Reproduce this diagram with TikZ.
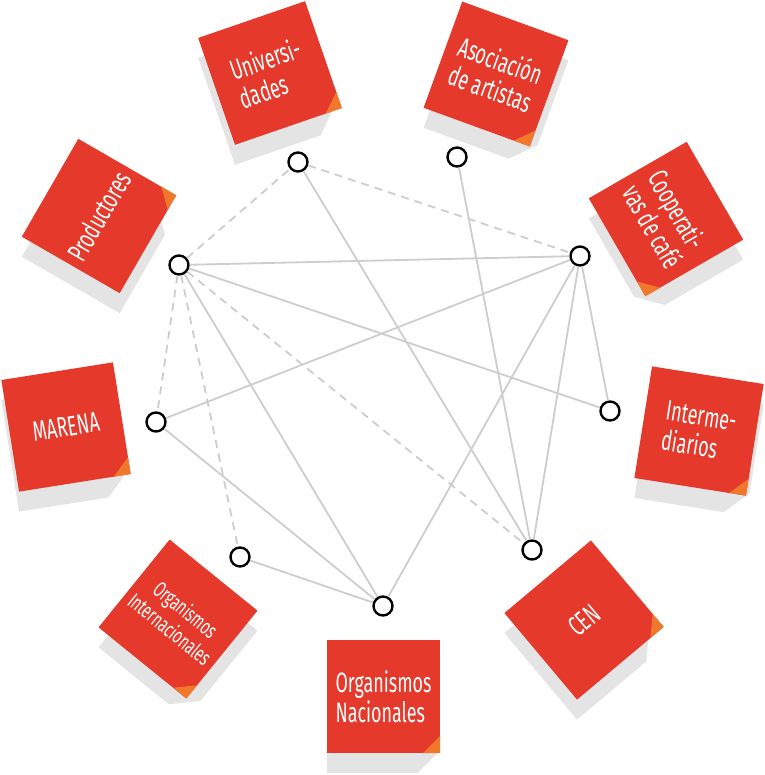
\documentclass[tikz,border=0pt]{standalone}
\usepackage{fontspec}
\newfontfamily\notefont{Fira Sans}[FakeStretch=0.64]
\definecolor{notered}{HTML}{E5392B}
\definecolor{notefold}{HTML}{F0782A}
\definecolor{noteshadow}{HTML}{E4E4E4}
\definecolor{linkgray}{HTML}{CDCDCD}
\tikzset{
  notetext/.style={text=white, align=left, inner sep=0pt, font=\notefont\fontsize{28}{30}\selectfont},
  smallnote/.style={font=\notefont\fontsize{22}{25}\selectfont, align=center},
  plainnote/.style={},
  hub/.style={circle, draw=black, line width=2.4pt, fill=white, minimum size=19pt, inner sep=0pt},
  link/.style={draw=linkgray, line width=1.8pt},
  dashlink/.style={link, dash pattern=on 8pt off 6pt}
}
% #1 name, #2 cx, #3 cy (image coords, y down), #4 angle, #5 extra style, #6 text
\newcommand\stickynote[6]{%
  \begin{scope}[shift={(#2,-#3-20)},rotate=#4]
    \fill[noteshadow] (-56.5,56.5) -- (56.5,56.5) -- (56.5,-34) -- (34,-56.5) -- (-56.5,-56.5) -- cycle;
  \end{scope}
  \begin{scope}[shift={(#2,-#3)},rotate=#4]
    \fill[notered] (-56.5,-56.5) rectangle (56.5,56.5);
    \fill[notefold] (56.5,-56.5) -- (39.5,-56.5) -- (56.5,-39.5) -- cycle;
  \end{scope}
  \node[notetext,#5,rotate=#4] (#1) at (#2,-#3) {#6};
}
\begin{document}
\begin{tikzpicture}[x=1pt,y=1pt]
\path[use as bounding box] (0,0) rectangle (764,-775);

\stickynote{tuni}{270}{73}{19}{plainnote}{Universi-\\dades}
\stickynote{tart}{496}{74}{-20}{plainnote}{Asociación\\de artistas}
\stickynote{tcoop}{666}{219}{-60}{plainnote}{Cooperati-\\vas de café}
\stickynote{tprod}{99}{216}{60}{plainnote}{Productores}
\stickynote{tmar}{66}{427}{9}{plainnote}{MARENA}
\stickynote{tint}{699}{431}{-9}{plainnote}{Interme-\\diarios}
\stickynote{tcen}{584}{620}{40}{plainnote}{CEN}
\stickynote{tnac}{383.5}{696.5}{0}{plainnote}{Organismos\\Nacionales}
\stickynote{tinter}{178}{619}{-39}{smallnote}{Organismos\\Internacionales}

\node[hub] (uni) at (298,-162) {};
\node[hub] (art) at (457,-157) {};
\node[hub] (coop) at (580,-256) {};
\node[hub] (prod) at (179,-265) {};
\node[hub] (mar) at (156,-422) {};
\node[hub] (int) at (610,-411) {};
\node[hub] (cen) at (532,-550) {};
\node[hub] (nac) at (383,-606) {};
\node[hub] (oint) at (240,-557) {};

\draw[link] (prod) -- (coop);
\draw[link] (prod) -- (int);
\draw[link] (prod) -- (nac);
\draw[link] (uni) -- (cen);
\draw[link] (art) -- (cen);
\draw[link] (coop) -- (mar);
\draw[link] (coop) -- (nac);
\draw[link] (coop) -- (cen);
\draw[link] (coop) -- (int);
\draw[link] (mar) -- (nac);
\draw[link] (oint) -- (nac);
\draw[dashlink] (prod) -- (uni);
\draw[dashlink] (prod) -- (mar);
\draw[dashlink] (prod) -- (oint);
\draw[dashlink] (prod) -- (cen);
\draw[dashlink] (uni) -- (coop);
\end{tikzpicture}
\end{document}
